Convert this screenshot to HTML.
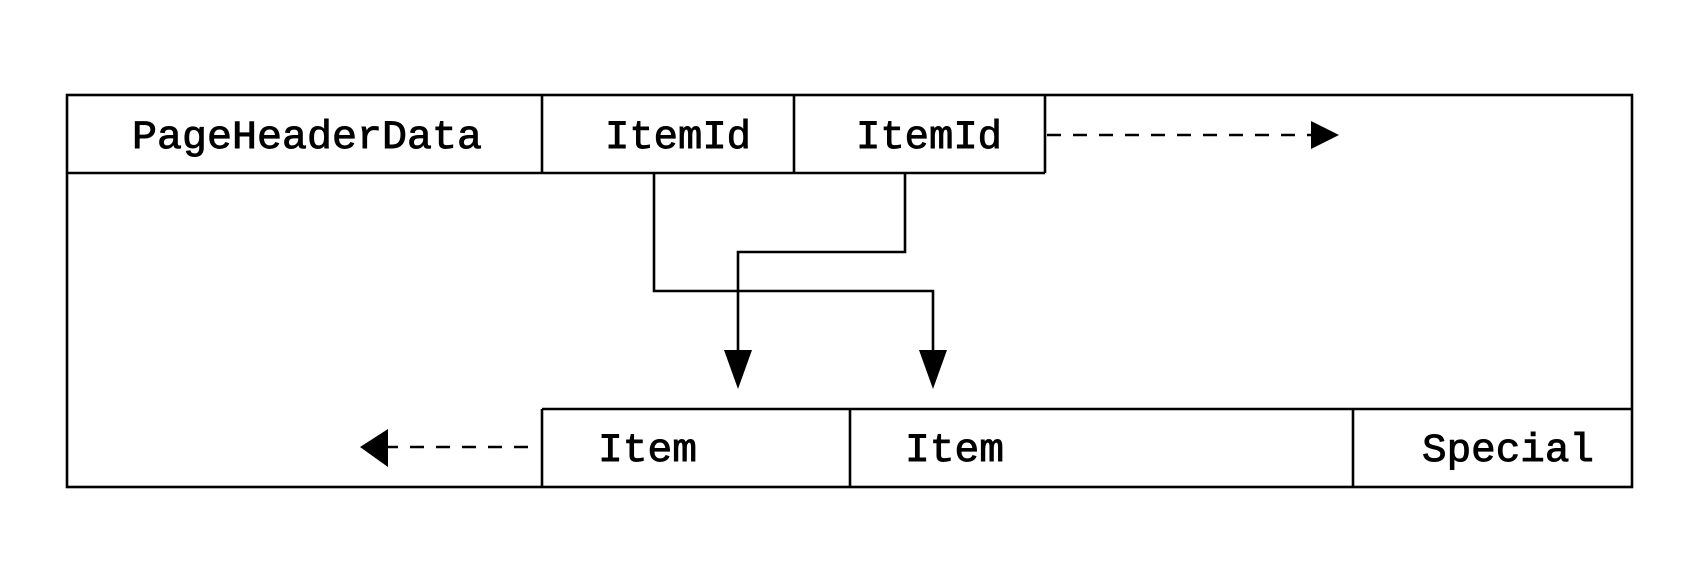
<!DOCTYPE html>
<html><head><meta charset="utf-8"><style>html,body{margin:0;padding:0;background:#fff}svg{display:block}</style></head>
<body>
<svg width="1696" height="574" viewBox="0 0 1696 574" xmlns="http://www.w3.org/2000/svg">
<g fill="none" stroke="#000" stroke-width="2.6">
<rect x="67" y="95" width="1565" height="392"/>
<line x1="67" y1="173" x2="1045" y2="173"/>
<line x1="542" y1="95" x2="542" y2="173"/>
<line x1="794" y1="95" x2="794" y2="173"/>
<line x1="1045" y1="95" x2="1045" y2="173"/>
<line x1="542" y1="409" x2="1632" y2="409"/>
<line x1="542" y1="409" x2="542" y2="487"/>
<line x1="850" y1="409" x2="850" y2="487"/>
<line x1="1353" y1="409" x2="1353" y2="487"/>
<polyline points="654,173 654,291 933,291 933,352"/>
<polyline points="905,173 905,252 738,252 738,352"/>
<line x1="1047" y1="135" x2="1312" y2="135" stroke-dasharray="14,12"/>
<line x1="528" y1="447" x2="388" y2="447" stroke-dasharray="14,12"/>
</g>
<g fill="#000">
<polygon points="1311,121 1339,135 1311,149"/>
<polygon points="724,350 752,350 738,389"/>
<polygon points="919,350 947,350 933,389"/>
<polygon points="388,429 360,447 388,467"/>
</g>
<g font-family="Liberation Mono, monospace" font-size="40" fill="#000" stroke="#000" stroke-width="0.9">
<text x="132" y="148" textLength="350" lengthAdjust="spacingAndGlyphs">PageHeaderData</text>
<text x="605" y="148" textLength="146" lengthAdjust="spacingAndGlyphs">ItemId</text>
<text x="856" y="148" textLength="146" lengthAdjust="spacingAndGlyphs">ItemId</text>
<text x="598" y="461" textLength="99" lengthAdjust="spacingAndGlyphs">Item</text>
<text x="905" y="461" textLength="99" lengthAdjust="spacingAndGlyphs">Item</text>
<text x="1422" y="461" textLength="172" lengthAdjust="spacingAndGlyphs">Special</text>
</g>
</svg>
</body></html>
